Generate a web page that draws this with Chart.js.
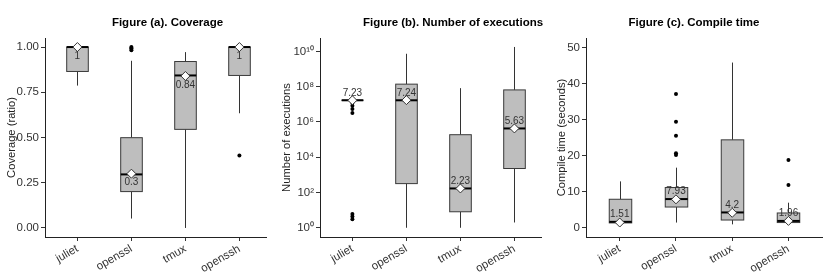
<!DOCTYPE html>
<html>
<head>
<meta charset="utf-8">
<title>Figures (a)-(c)</title>
<script src="https://cdn.jsdelivr.net/npm/chart.js"></script>
<style>
    body { margin: 0; background: #fff; }
    .panel { position: absolute; top: 0; height: 273px; }
    #pa { left: 0; }
    #pb { left: 275px; }
    #pc { left: 550px; }
</style>
</head>
<body>
<div class="panel" id="pa"><canvas id="chartA" width="275" height="273"></canvas></div>
<div class="panel" id="pb"><canvas id="chartB" width="275" height="273"></canvas></div>
<div class="panel" id="pc"><canvas id="chartC" width="280" height="273"></canvas></div>

<script>
const categories = ['juliet', 'openssl', 'tmux', 'openssh'];

// Figure (a) coverage ratio
const covLow    = [0.787, 0.052, 0.0,   0.634];
const covQ1     = [0.865, 0.201, 0.545, 0.843];
const covMedian = [1.0,   0.296, 0.843, 1.0];
const covQ3     = [1.0,   0.499, 0.92,  1.0];
const covHigh   = [1.0,   0.924, 0.972, 1.0];
const covMean   = [1.0,   0.3,   0.84,  1.0];
const covMeanLabels = ['1', '0.3', '0.84', '1'];
const covOutliers = [[], [0.982, 0.99, 0.995, 1.0], [], [0.401]];
const covTicks = [0, 0.25, 0.5, 0.75, 1];
const covTickLabels = ['0.00', '0.25', '0.50', '0.75', '1.00'];

// Figure (b) number of executions (log scale)
const execLow    = [1.7e7, 1,     1,     2];
const execQ1     = [1.7e7, 320,   8.1,   2300];
const execMedian = [1.7e7, 1.7e7, 170,   4.3e5];
const execQ3     = [1.7e7, 1.4e8, 1.9e5, 6.6e7];
const execHigh   = [1.7e7, 7.4e9, 8.3e7, 1.8e10];
const execMean   = [1.7e7, 1.74e7, 170,  4.3e5];
const execMeanLabels = ['7.23', '7.24', '2.23', '5.63'];
const execOutliers = [[1.2e7, 8.3e6, 5.4e6, 3.2e6, 6, 4.3, 3], [], [], []];
const execTicks = [1, 1e2, 1e4, 1e6, 1e8, 1e10];
const execTickLabels = ['10⁰', '10²', '10⁴', '10⁶', '10⁸', '10¹⁰'];

// Figure (c) compile time in seconds
const timeLow    = [1.4,  1.5,  1.0,  1.4];
const timeQ1     = [1.4,  5.8,  2.2,  1.5];
const timeMedian = [1.7,  8.0,  4.3,  1.95];
const timeQ3     = [7.95, 11.2, 24.4, 4.15];
const timeHigh   = [12.9, 16.7, 45.8, 7.0];
const timeMean   = [1.51, 7.93, 4.2,  1.96];
const timeMeanLabels = ['1.51', '7.93', '4.2', '1.96'];
const timeOutliers = [[], [37.1, 29.4, 25.5, 20.7, 20.2], [], [18.8, 11.9]];
const timeTicks = [0, 10, 20, 30, 40, 50];
const timeTickLabels = ['0', '10', '20', '30', '40', '50'];

Chart.defaults.font.family = "'Liberation Sans', Arial, sans-serif";
Chart.defaults.animation = false;

// boxes, whiskers and median lines, positioned with the chart scales
const boxPlugin = {
    id: 'boxes',
    beforeDatasetsDraw(chart, args, opts) {
        const { ctx, scales: { x, y } } = chart;
        ctx.save();
        opts.median.forEach((m, i) => {
            const cx = Math.round(x.getPixelForValue(i + 1)) + 0.5;
            const half = x.getPixelForValue(i + 1 + opts.width / 2) - x.getPixelForValue(i + 1);
            const yLo = y.getPixelForValue(opts.low[i]);
            const yQ1 = y.getPixelForValue(opts.q1[i]);
            const yQ3 = y.getPixelForValue(opts.q3[i]);
            const yHi = y.getPixelForValue(opts.high[i]);
            const yMed = y.getPixelForValue(m);
            ctx.strokeStyle = '#333';
            ctx.lineWidth = 1;
            ctx.beginPath();
            ctx.moveTo(cx, yLo); ctx.lineTo(cx, yQ1);
            ctx.moveTo(cx, yQ3); ctx.lineTo(cx, yHi);
            ctx.stroke();
            ctx.fillStyle = '#bebebe';
            ctx.fillRect(cx - half, yQ3, half * 2, yQ1 - yQ3);
            ctx.strokeStyle = '#3a3a3a';
            ctx.strokeRect(cx - half, yQ3, half * 2, yQ1 - yQ3);
            ctx.strokeStyle = '#000';
            ctx.lineWidth = 2;
            ctx.beginPath();
            ctx.moveTo(cx - half, yMed); ctx.lineTo(cx + half, yMed);
            ctx.stroke();
        });
        ctx.restore();
    }
};

// mean value labels next to the diamonds
const meanLabelPlugin = {
    id: 'meanLabels',
    afterDatasetsDraw(chart, args, opts) {
        const { ctx, scales: { x, y } } = chart;
        ctx.save();
        ctx.font = '10px ' + Chart.defaults.font.family;
        ctx.fillStyle = '#333';
        ctx.textAlign = 'center';
        ctx.textBaseline = 'middle';
        opts.labels.forEach((t, i) => {
            ctx.fillText(t, x.getPixelForValue(i + 1), y.getPixelForValue(opts.values[i]) + opts.dy);
        });
        ctx.restore();
    }
};

const titlePlugin = {
    id: 'panelTitle',
    afterDraw(chart, args, opts) {
        const { ctx } = chart;
        ctx.save();
        ctx.font = 'bold 11.5px ' + Chart.defaults.font.family;
        ctx.fillStyle = '#000';
        ctx.textAlign = 'center';
        ctx.textBaseline = 'middle';
        ctx.fillText(opts.text, opts.x, 23);
        ctx.restore();
    }
};

function makeChart(id, cfg) {
    const meanPoints = cfg.mean.map((v, i) => ({ x: i + 1, y: v }));
    const outPoints = cfg.outliers.flatMap((list, i) => list.map(v => ({ x: i + 1, y: v })));
    return new Chart(document.getElementById(id), {
        type: 'scatter',
        data: {
            datasets: [
                {
                    label: 'mean',
                    data: meanPoints,
                    pointStyle: 'rectRot',
                    pointRadius: 4.5,
                    backgroundColor: '#fff',
                    borderColor: '#333',
                    borderWidth: 1
                },
                {
                    label: 'outliers',
                    data: outPoints,
                    pointRadius: 2,
                    backgroundColor: '#000',
                    borderColor: '#000',
                    borderWidth: 0
                }
            ]
        },
        options: {
            responsive: false,
            layout: { padding: { top: 38, right: cfg.padRight, left: 0, bottom: 0 } },
            plugins: {
                legend: { display: false },
                tooltip: { enabled: false },
                boxes: {
                    low: cfg.low, q1: cfg.q1, median: cfg.median,
                    q3: cfg.q3, high: cfg.high, width: 0.4
                },
                meanLabels: { labels: cfg.meanLabels, values: cfg.mean, dy: cfg.labelDy },
                panelTitle: { text: cfg.title, x: cfg.titleX }
            },
            scales: {
                x: {
                    type: 'linear',
                    min: 0.4,
                    max: cfg.xMax,
                    afterBuildTicks: s => { s.ticks = categories.map((c, i) => ({ value: i + 1 })); },
                    afterFit: s => { s.height = 36; },
                    ticks: {
                        callback: (v, i) => categories[i],
                        autoSkip: false,
                        minRotation: 30,
                        maxRotation: 30,
                        padding: 1,
                        color: '#333',
                        font: { size: 11.5 }
                    },
                    grid: { drawOnChartArea: false, tickLength: 4, color: '#333' },
                    border: { color: '#222', width: 1 }
                },
                y: {
                    type: cfg.yType,
                    min: cfg.yMin,
                    max: cfg.yMax,
                    afterBuildTicks: s => { s.ticks = cfg.ticks.map(v => ({ value: v })); },
                    afterFit: s => { s.width = cfg.yWidth; },
                    ticks: {
                        callback: (v, i) => cfg.tickLabels[i],
                        padding: 2,
                        color: '#333',
                        font: { size: 11.5 }
                    },
                    grid: { drawOnChartArea: false, tickLength: 4, color: '#333' },
                    border: { color: '#222', width: 1 },
                    title: {
                        display: true,
                        text: cfg.yTitle,
                        color: '#222',
                        font: { size: 11.2 },
                        padding: { top: 5, bottom: 0 }
                    }
                }
            }
        },
        plugins: [boxPlugin, meanLabelPlugin, titlePlugin]
    });
}

makeChart('chartA', {
    title: 'Figure (a). Coverage', titleX: 167.5,
    yTitle: 'Coverage (ratio)', yType: 'linear', yMin: -0.05, yMax: 1.05,
    ticks: covTicks, tickLabels: covTickLabels, yWidth: 45, padRight: 8.6, xMax: 4.5,
    low: covLow, q1: covQ1, median: covMedian, q3: covQ3, high: covHigh,
    mean: covMean, meanLabels: covMeanLabels, outliers: covOutliers, labelDy: 9
});

makeChart('chartB', {
    title: 'Figure (b). Number of executions', titleX: 178,
    yTitle: 'Number of executions', yType: 'logarithmic', yMin: 0.31, yMax: 5.8e10,
    ticks: execTicks, tickLabels: execTickLabels, yWidth: 45, padRight: 8.6, xMax: 4.5,
    low: execLow, q1: execQ1, median: execMedian, q3: execQ3, high: execHigh,
    mean: execMean, meanLabels: execMeanLabels, outliers: execOutliers, labelDy: -7
});

makeChart('chartC', {
    title: 'Figure (c). Compile time', titleX: 144,
    yTitle: 'Compile time (seconds)', yType: 'linear', yMin: -2.5, yMax: 52.6,
    ticks: timeTicks, tickLabels: timeTickLabels, yWidth: 36, padRight: 7.8, xMax: 4.6,
    low: timeLow, q1: timeQ1, median: timeMedian, q3: timeQ3, high: timeHigh,
    mean: timeMean, meanLabels: timeMeanLabels, outliers: timeOutliers, labelDy: -8
});
</script>
</body>
</html>
